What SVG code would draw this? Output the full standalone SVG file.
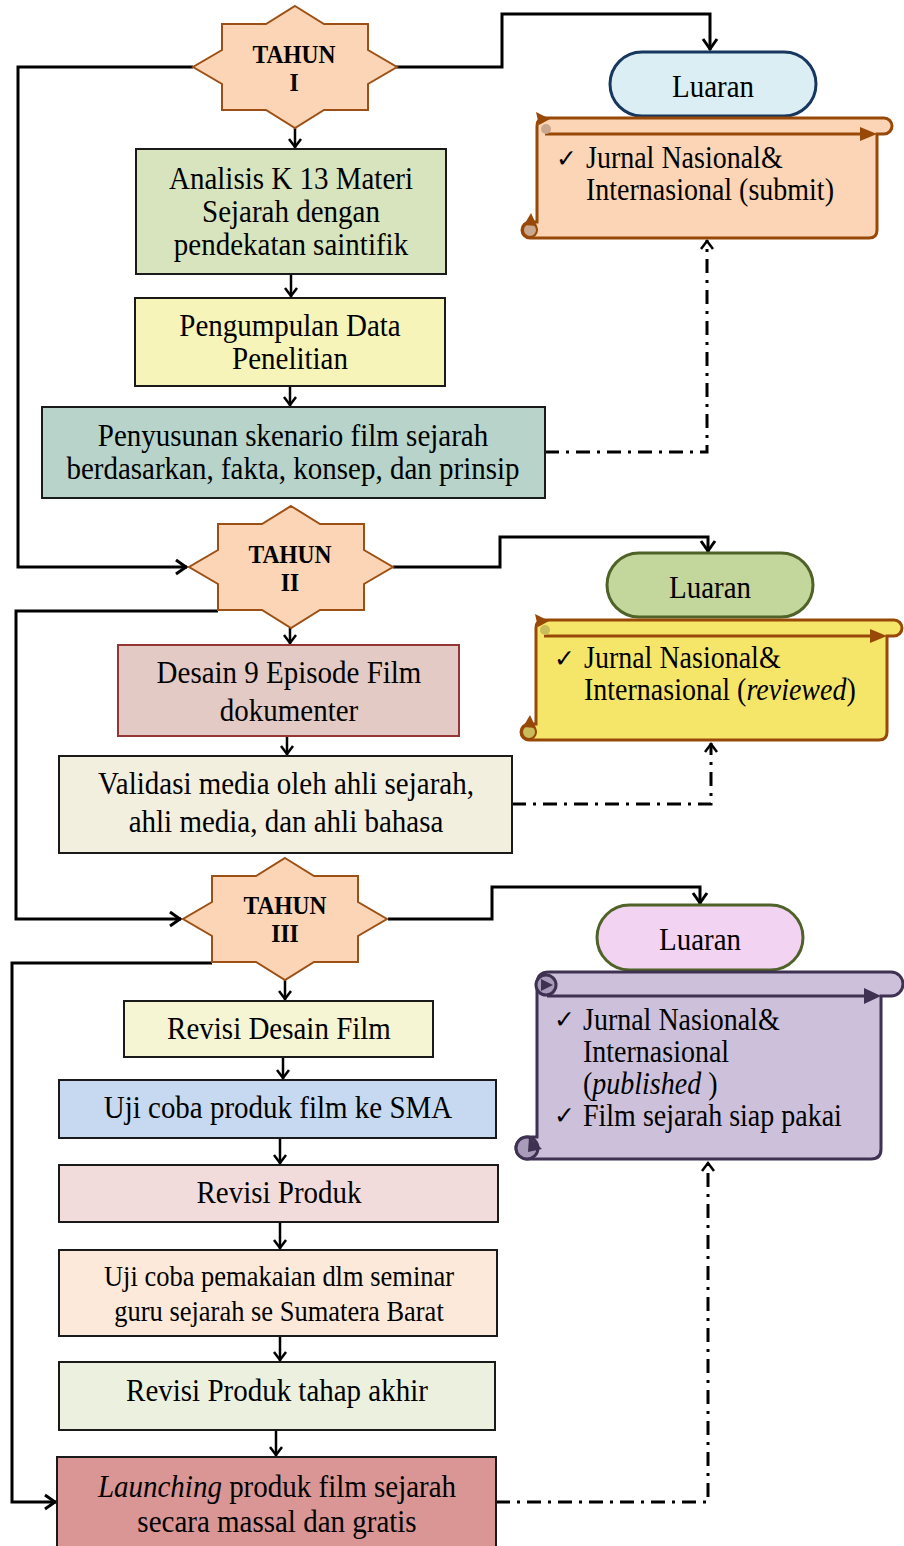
<svg xmlns="http://www.w3.org/2000/svg" width="904" height="1546" viewBox="0 0 904 1546">
<style>
.t{font-family:"Liberation Serif","Times New Roman",serif;font-size:29px;fill:#000;text-anchor:middle}
.s{font-family:"Liberation Serif","Times New Roman",serif;font-size:28px;fill:#000}
.b{font-family:"Liberation Serif","Times New Roman",serif;font-size:23.5px;font-weight:bold;fill:#000;text-anchor:middle}
.ck{font-family:"DejaVu Sans",sans-serif;font-size:25px;fill:#000}
.star{fill:#FBD5B5;stroke:#9C5015;stroke-width:2}
.box{stroke:#1a1a1a;stroke-width:2}
.con{fill:none;stroke:#000;stroke-width:3}
.sh{fill:none;stroke:#000;stroke-width:2.5}
.dd{fill:none;stroke:#000;stroke-width:3;stroke-dasharray:14 7 3 7}
</style>
<defs>
<marker id="ah" markerUnits="userSpaceOnUse" markerWidth="20" markerHeight="20" viewBox="-14 -10 16 20" refX="0" refY="0" orient="auto"><path d="M-11,-7 L-1,0 L-11,7" fill="none" stroke="#000" stroke-width="3"/></marker>
<marker id="as" markerUnits="userSpaceOnUse" markerWidth="20" markerHeight="20" viewBox="-14 -10 16 20" refX="0" refY="0" orient="auto"><path d="M-9,-6 L-1,0 L-9,6" fill="none" stroke="#000" stroke-width="2.5"/></marker>
<polygon id="starShape" points="0,-61 29,-43 73,-43 73,-17 102,0 73,17 73,43 29,43 0,61 -29,43 -73,43 -73,17 -102,0 -73,-17 -73,-43 -29,-43"/>
</defs>

<g id="connectors">
<path class="con" d="M193,67 H18 V567 H187" marker-end="url(#ah)"/>
<path class="con" d="M396,67 H502 V14 H710 V50" marker-end="url(#ah)"/>
<path class="con" d="M218,611 H16 V919 H181" marker-end="url(#ah)"/>
<path class="con" d="M393,567 H500 V537 H708 V552" marker-end="url(#ah)"/>
<path class="con" d="M212,963 H12 V1502 H56" marker-end="url(#ah)"/>
<path class="con" d="M388,919 H492 V887 H700 V904" marker-end="url(#ah)"/>
<path class="sh" d="M295,128 V148" marker-end="url(#as)"/>
<path class="sh" d="M291,274 V297" marker-end="url(#as)"/>
<path class="sh" d="M290,386 V406" marker-end="url(#as)"/>
<path class="sh" d="M290,628 V644" marker-end="url(#as)"/>
<path class="sh" d="M287,736 V755" marker-end="url(#as)"/>
<path class="sh" d="M285,980 V1000" marker-end="url(#as)"/>
<path class="sh" d="M283,1057 V1079" marker-end="url(#as)"/>
<path class="sh" d="M280,1138 V1164" marker-end="url(#as)"/>
<path class="sh" d="M280,1222 V1249" marker-end="url(#as)"/>
<path class="sh" d="M280,1336 V1361" marker-end="url(#as)"/>
<path class="sh" d="M276,1430 V1456" marker-end="url(#as)"/>
<path class="dd" d="M545,452 H707 V240" marker-end="url(#as)"/>
<path class="dd" d="M512,804 H711 V743" marker-end="url(#as)"/>
<path class="dd" d="M496,1502 H708 V1162" marker-end="url(#as)"/>
</g>

<g id="tahun1">
<use href="#starShape" class="star" x="295" y="67"/>
<text class="b" transform="translate(294,63) scale(1,1.08)">TAHUN</text>
<text class="b" transform="translate(294,91) scale(1,1.08)">I</text>
</g>
<g id="tahun2">
<use href="#starShape" class="star" x="291" y="567"/>
<text class="b" transform="translate(290,563) scale(1,1.08)">TAHUN</text>
<text class="b" transform="translate(290,591) scale(1,1.08)">II</text>
</g>
<g id="tahun3">
<use href="#starShape" class="star" x="285" y="919"/>
<text class="b" transform="translate(285,914) scale(1,1.08)">TAHUN</text>
<text class="b" transform="translate(285,942) scale(1,1.08)">III</text>
</g>

<g id="box1">
<rect class="box" x="136" y="149" width="310" height="125" fill="#D7E4BD"/>
<text class="t" transform="translate(291,189) scale(1,1.06)">Analisis K 13 Materi</text>
<text class="t" transform="translate(291,222) scale(1,1.06)">Sejarah dengan</text>
<text class="t" transform="translate(291,255) scale(1,1.06)">pendekatan saintifik</text>
</g>
<g id="box2">
<rect class="box" x="135" y="298" width="310" height="88" fill="#F6F4B8"/>
<text class="t" transform="translate(290,336) scale(1,1.1)">Pengumpulan Data</text>
<text class="t" transform="translate(290,369) scale(1,1.1)">Penelitian</text>
</g>
<g id="box3">
<rect class="box" x="42" y="407" width="503" height="91" fill="#B7D3CA"/>
<text class="t" transform="translate(293,446) scale(1,1.1)">Penyusunan skenario film sejarah</text>
<text class="t" transform="translate(293,479) scale(1,1.1)">berdasarkan, fakta, konsep, dan prinsip</text>
</g>
<g id="box4">
<rect x="118" y="645" width="341" height="91" fill="#E3CAC5" stroke="#943634" stroke-width="2"/>
<text class="t" transform="translate(289,683) scale(1,1.12)">Desain 9 Episode Film</text>
<text class="t" transform="translate(289,721) scale(1,1.12)">dokumenter</text>
</g>
<g id="box5">
<rect class="box" x="59" y="756" width="453" height="97" fill="#F2EFDF"/>
<text class="t" transform="translate(286,794) scale(1,1.12)">Validasi media oleh ahli sejarah,</text>
<text class="t" transform="translate(286,832) scale(1,1.12)">ahli media, dan ahli bahasa</text>
</g>
<g id="box6">
<rect class="box" x="124" y="1001" width="309" height="56" fill="#F6F5D3"/>
<text class="t" transform="translate(279,1039) scale(1,1.12)">Revisi Desain Film</text>
</g>
<g id="box7">
<rect class="box" x="59" y="1080" width="437" height="58" fill="#C6D9F1"/>
<text class="t" transform="translate(278,1118) scale(1,1.12)">Uji coba produk film ke SMA</text>
</g>
<g id="box8">
<rect class="box" x="59" y="1165" width="439" height="57" fill="#F2DCDB"/>
<text class="t" transform="translate(279,1203) scale(1,1.12)">Revisi Produk</text>
</g>
<g id="box9">
<rect class="box" x="59" y="1250" width="438" height="86" fill="#FDE9D9"/>
<text class="t" transform="translate(279,1286) scale(1,1.1)" style="font-size:26.5px">Uji coba pemakaian dlm seminar</text>
<text class="t" transform="translate(279,1321) scale(1,1.1)" style="font-size:26.5px">guru sejarah se Sumatera Barat</text>
</g>
<g id="box10">
<rect class="box" x="59" y="1362" width="436" height="68" fill="#EBF1DE"/>
<text class="t" transform="translate(277,1401) scale(1,1.12)">Revisi Produk tahap akhir</text>
</g>
<g id="box11">
<rect class="box" x="57" y="1457" width="439" height="95" fill="#D99694"/>
<text class="t" transform="translate(277,1497) scale(1,1.1)"><tspan font-style="italic">Launching</tspan> produk film sejarah</text>
<text class="t" transform="translate(277,1532) scale(1,1.1)">secara massal dan gratis</text>
</g>

<g id="luaran1">
<rect x="610" y="52" width="206" height="64" rx="32" fill="#DAEEF3" stroke="#17375E" stroke-width="3"/>
<text class="t" transform="translate(713,97) scale(1,1.12)">Luaran</text>
</g>
<g id="luaran2">
<rect x="607" y="553" width="206" height="64" rx="32" fill="#C3D69B" stroke="#4F6228" stroke-width="3"/>
<text class="t" transform="translate(710,598) scale(1,1.12)">Luaran</text>
</g>
<g id="luaran3">
<rect x="597" y="905" width="206" height="65" rx="32.5" fill="#F2D3F2" stroke="#4F6228" stroke-width="3"/>
<text class="t" transform="translate(700,950) scale(1,1.12)">Luaran</text>
</g>

<g id="scroll1">
<path d="M545,118 L884,118 A8,8 0 0 1 884,134 L877,134 L877,230 Q877,238 869,238 L530,238 A8,8 0 0 1 530,222 L537,222 L537,126 Q537,118 545,118 Z" fill="#FBD5B5" stroke="#984807" stroke-width="3"/>
<path d="M545,134 H862" fill="none" stroke="#984807" stroke-width="3"/>
<polygon points="860,127 877,134 860,141" fill="#984807"/>
<polygon points="536,112 550,119 539,125" fill="#984807"/>
<circle cx="546" cy="129" r="5" fill="#C8A78E"/>
<circle cx="530" cy="230" r="7" fill="#C8A78E" stroke="#984807" stroke-width="2"/>
<polygon points="531,213 537,226 524,225" fill="#984807"/>
<text class="ck" x="556" y="167">✓</text>
<text class="s" transform="translate(586,168) scale(1,1.1)">Jurnal Nasional&amp;</text>
<text class="s" transform="translate(586,200) scale(1,1.1)">Internasional (submit)</text>
</g>
<g id="scroll2">
<path d="M544,620 L894,620 A8,8 0 0 1 894,636 L887,636 L887,732 Q887,740 879,740 L529,740 A8,8 0 0 1 529,724 L536,724 L536,628 Q536,620 544,620 Z" fill="#F5E66A" stroke="#984807" stroke-width="3"/>
<path d="M544,636 H872" fill="none" stroke="#984807" stroke-width="3"/>
<polygon points="870,629 887,636 870,643" fill="#984807"/>
<polygon points="535,614 549,621 538,627" fill="#984807"/>
<circle cx="545" cy="630" r="5" fill="#C9BC5A"/>
<circle cx="529" cy="732" r="7" fill="#C9BC5A" stroke="#984807" stroke-width="2"/>
<polygon points="530,715 536,728 523,727" fill="#984807"/>
<text class="ck" x="554" y="667">✓</text>
<text class="s" transform="translate(584,668) scale(1,1.1)">Jurnal Nasional&amp;</text>
<text class="s" transform="translate(584,700) scale(1,1.1)">Internasional (<tspan font-style="italic">reviewed</tspan>)</text>
</g>
<g id="scroll3">
<path d="M549,972 L891,972 A12,12 0 0 1 891,996 L881,996 L881,1149 Q881,1159 871,1159 L527,1159 A11,11 0 0 1 527,1137 L537,1137 L537,984 Q537,972 549,972 Z" fill="#CCC0DA" stroke="#3F3151" stroke-width="3"/>
<path d="M547,996 H864" fill="none" stroke="#3F3151" stroke-width="3"/>
<polygon points="864,988 881,996 864,1004" fill="#3F3151"/>
<circle cx="546" cy="985" r="10" fill="#A99CBA" stroke="#3F3151" stroke-width="3"/>
<polygon points="541,979 553,985 541,991" fill="#3F3151"/>
<circle cx="527" cy="1148" r="11" fill="#A99CBA" stroke="#3F3151" stroke-width="3"/>
<polygon points="529,1137 542,1149 528,1152" fill="#3F3151"/>
<text class="ck" x="554" y="1028">✓</text>
<text class="s" transform="translate(583,1030) scale(1,1.1)">Jurnal Nasional&amp;</text>
<text class="s" transform="translate(583,1062) scale(1,1.1)">Internasional</text>
<text class="s" transform="translate(583,1094) scale(1,1.1)">(<tspan font-style="italic">published</tspan> )</text>
<text class="ck" x="554" y="1124">✓</text>
<text class="s" transform="translate(583,1126) scale(1,1.1)">Film sejarah siap pakai</text>
</g>
</svg>
